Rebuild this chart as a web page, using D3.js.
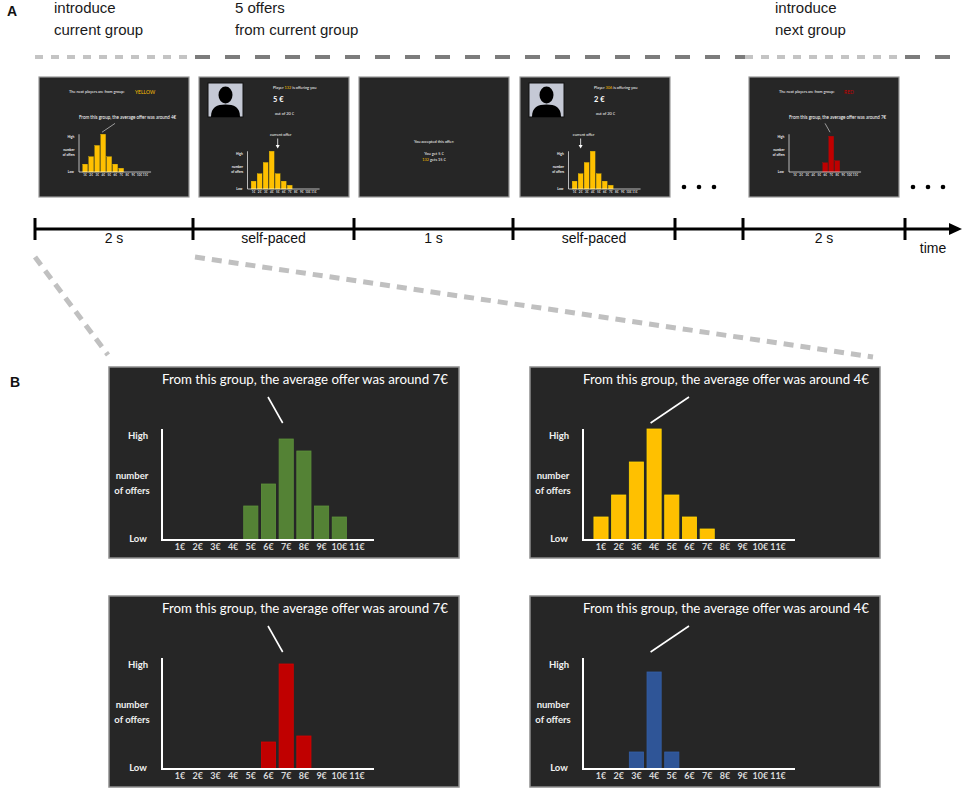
<!DOCTYPE html>
<html>
<head>
<meta charset="utf-8">
<script src="https://cdn.jsdelivr.net/npm/d3@7"></script>
<style>
  body { margin: 0; background: #fff; }
  svg { display: block; }
</style>
</head>
<body>
<svg id="fig" width="964" height="791"></svg>
<script>
// offer amounts on the x axis
var euros = ["1€", "2€", "3€", "4€", "5€", "6€", "7€", "8€", "9€", "10€", "11€"];
// relative number of offers per amount (Low = 0, High ~ 100)
var greenOffers  = [0, 0, 0, 0, 34, 56, 101, 89, 34, 23, 0];
var yellowOffers = [23, 45, 78, 111, 45, 23, 11, 0, 0, 0, 0];
var redOffers    = [0, 0, 0, 0, 0, 27, 105, 33, 0, 0, 0];
var blueOffers   = [0, 0, 17, 97, 17, 0, 0, 0, 0, 0, 0];
var averages = ["7€", "4€", "7€", "4€"];
var currentOffers = ["5€", "2€"];
var offerPlayers = ["132", "306"];
// timeline
var phaseLabels = [["introduce", "current group"], ["5 offers", "from current group"], ["introduce", "next group"]];
var intervalLabels = ["2 s", "self-paced", "1 s", "self-paced", "", "2 s"];

var colors = { green: "#548235", yellow: "#ffc000", red: "#c00000", blue: "#2f5597" };
var sans = "'Liberation Sans', Arial, sans-serif";
var slideFont = "Lato, 'Open Sans', sans-serif";

var svg = d3.select("#fig");

// band + linear scales shared by every histogram (local coords, origin at axis corner)
var x = d3.scaleBand().domain(euros).range([9.15, 203.85]).paddingInner(0.2).paddingOuter(0.1);
var y = d3.scaleLinear().domain([0, 111]).range([0, -111]);

function drawHist(parent, tx, ty, k, values, color, opts) {
  var g = parent.append("g").attr("transform", "translate(" + tx + "," + ty + ") scale(" + k + ")");
  if (opts.box) {
    g.append("rect").attr("x", -53).attr("y", -173).attr("width", 350).attr("height", 191)
      .attr("fill", "#262626").attr("stroke", "#8f8f8f").attr("stroke-width", 1.5);
  }
  if (opts.avg) {
    g.append("text").attr("x", 143).attr("y", -156).attr("text-anchor", "middle")
      .attr("fill", "#fff").style("font-family", slideFont).style("font-size", "14px")
      .attr("textLength", 286).attr("lengthAdjust", "spacingAndGlyphs")
      .text("From this group, the average offer was around " + opts.avg);
    g.append("line").attr("x1", 106).attr("y1", -143)
      .attr("x2", x(opts.avg) + x.bandwidth() / 2 - 3.5).attr("y2", -117)
      .attr("stroke", "#fff").attr("stroke-width", 1.6);
  }
  var data = euros.map(function(e, i) { return { e: e, v: values[i] }; });
  g.selectAll("rect.bar").data(data.filter(function(d) { return d.v > 0; }))
    .enter().append("rect").attr("class", "bar")
    .attr("x", function(d) { return x(d.e); })
    .attr("y", function(d) { return y(d.v); })
    .attr("width", x.bandwidth())
    .attr("height", function(d) { return -y(d.v); })
    .attr("fill", color)
    .attr("stroke", d3.color(color).brighter(0.3))
    .attr("stroke-width", 0.8);
  // axes
  g.append("path").attr("d", "M0,-111V0H212").attr("fill", "none")
    .attr("stroke", "#fff").attr("stroke-width", 2);
  var ax = g.append("g").call(d3.axisBottom(x).tickSize(0).tickPadding(4));
  ax.select(".domain").remove();
  ax.selectAll("text").attr("fill", "#d9d9d9").style("font-family", slideFont)
    .style("font-size", "9px").style("font-weight", "bold");
  var yl = [["High", -24, -101], ["number", -30, -61], ["of offers", -30, -46], ["Low", -24, 2]];
  g.selectAll("text.ylab").data(yl).enter().append("text").attr("class", "ylab")
    .attr("x", function(d) { return d[1]; }).attr("y", function(d) { return d[2]; })
    .attr("text-anchor", "middle").attr("fill", "#f0f0f0")
    .style("font-family", slideFont).style("font-size", "9.5px").style("font-weight", "bold")
    .text(function(d) { return d[0]; });
  return g;
}

function screen(x0) {
  svg.append("rect").attr("x", x0).attr("y", 77).attr("width", 150).attr("height", 120)
    .attr("fill", "#262626").attr("stroke", "#999").attr("stroke-width", 1.2);
}

function tiny(x0, y0, str, size, anchor, fill, weight) {
  return svg.append("text").attr("x", x0).attr("y", y0).attr("text-anchor", anchor || "start")
    .attr("fill", fill || "#fff").style("font-family", slideFont).style("font-size", size + "px")
    .style("font-weight", weight || "normal").text(str);
}

function photo(x0, y0) {
  var g = svg.append("g").attr("transform", "translate(" + x0 + "," + y0 + ")");
  g.append("rect").attr("width", 35).attr("height", 34).attr("fill", "#c5c9d5")
    .attr("stroke", "#111").attr("stroke-width", 1);
  g.append("ellipse").attr("cx", 17.5).attr("cy", 12).attr("rx", 7).attr("ry", 8.5).attr("fill", "#000");
  g.append("path").attr("d", "M3,34C3,24 9,21.5 17.5,21.5C26,21.5 32,24 32,34Z").attr("fill", "#000");
}

// ---------- panel A ----------
svg.append("text").attr("x", 7).attr("y", 16).style("font-family", sans).style("font-size", "14px")
  .style("font-weight", "bold").attr("fill", "#111").text("A");
svg.append("text").attr("x", 10).attr("y", 387).style("font-family", sans).style("font-size", "14px")
  .style("font-weight", "bold").attr("fill", "#111").text("B");

var phaseX = [54, 235, 775];
phaseLabels.forEach(function(lines, i) {
  lines.forEach(function(t, j) {
    svg.append("text").attr("x", phaseX[i]).attr("y", 13 + j * 21.5)
      .style("font-family", sans).style("font-size", "15px").attr("fill", "#1a1a1a").text(t);
  });
});

// dashed phase bar
var dashSegs = [[35, 193, "light"], [195, 745, "dark"], [745, 905, "light"], [905, 951, "dark"]];
dashSegs.forEach(function(s) {
  svg.append("line").attr("x1", s[0]).attr("x2", s[1]).attr("y1", 57).attr("y2", 57)
    .attr("stroke", s[2] === "light" ? "#c4c4c4" : "#7c7c7c").attr("stroke-width", 4)
    .attr("stroke-dasharray", s[2] === "light" ? "8,8" : "15,15");
});

// screens
[39, 199, 359, 520, 749].forEach(screen);

// screen 1: introduce yellow group
tiny(69, 93, "The next players are from group:", 3.9);
tiny(135, 93.5, "YELLOW", 5, "start", colors.yellow);
drawHist(svg, 79, 172, 0.34, yellowOffers, colors.yellow, { avg: averages[1] });

// screens 2 and 4: offers
[[199, 0], [520, 1]].forEach(function(s) {
  var x0 = s[0], i = s[1];
  photo(x0 + 9, 83);
  var t = tiny(x0 + 74, 89, "Player ", 3.9);
  t.append("tspan").attr("fill", colors.yellow).text(offerPlayers[i]);
  t.append("tspan").text(" is offering you");
  tiny(x0 + 74, 102, currentOffers[i].replace("€", " €"), 7.5, "start", "#fff", "bold");
  tiny(x0 + 76, 115, "out of 20 €", 3.9);
  var ax0 = x0 + 48.5, ay0 = 189;
  drawHist(svg, ax0, ay0, 0.34, yellowOffers, colors.yellow, {});
  var cx = ax0 + 0.34 * (x(currentOffers[i]) + x.bandwidth() / 2);
  tiny(cx + 3, 136, "current offer", 3.9, "middle");
  svg.append("line").attr("x1", cx).attr("x2", cx).attr("y1", 138.5).attr("y2", 145)
    .attr("stroke", "#fff").attr("stroke-width", 0.8);
  svg.append("path").attr("d", "M" + (cx - 2) + ",145L" + (cx + 2) + ",145L" + cx + ",148.5Z")
    .attr("fill", "#fff");
});

// screen 3: accepted
tiny(434, 143, "You accepted this offer:", 3.9, "middle");
tiny(434, 155, "You get 5 €", 3.9, "middle");
var acc = tiny(434, 161, "", 3.9, "middle");
acc.append("tspan").attr("fill", colors.yellow).text("132");
acc.append("tspan").text(" gets 15 €");

// screen 5: introduce red group
tiny(779, 93, "The next players are from group:", 3.9);
tiny(844, 93.5, "RED", 5, "start", colors.red);
drawHist(svg, 789, 172, 0.34, redOffers, colors.red, { avg: averages[2] });

// ellipsis dots
[684, 699, 714, 913, 928, 943].forEach(function(cx) {
  svg.append("circle").attr("cx", cx).attr("cy", 187).attr("r", 2.3).attr("fill", "#000");
});

// timeline
var ticks = [35, 193, 354, 513, 675, 743, 905];
svg.append("line").attr("x1", 35).attr("x2", 952).attr("y1", 229).attr("y2", 229)
  .attr("stroke", "#000").attr("stroke-width", 3);
svg.append("path").attr("d", "M949,223L962,229L949,235Z").attr("fill", "#000");
ticks.forEach(function(tx) {
  svg.append("line").attr("x1", tx).attr("x2", tx).attr("y1", 218).attr("y2", 240)
    .attr("stroke", "#000").attr("stroke-width", 3);
});
intervalLabels.forEach(function(t, i) {
  if (!t) return;
  svg.append("text").attr("x", (ticks[i] + ticks[i + 1]) / 2).attr("y", 243)
    .attr("text-anchor", "middle").style("font-family", sans).style("font-size", "14px")
    .attr("fill", "#111").text(t);
});
svg.append("text").attr("x", 933).attr("y", 253).attr("text-anchor", "middle")
  .style("font-family", sans).style("font-size", "14px").attr("fill", "#111").text("time");

// zoom connectors
[[35, 257, 108, 355], [195, 257, 873, 357]].forEach(function(c) {
  svg.append("line").attr("x1", c[0]).attr("y1", c[1]).attr("x2", c[2]).attr("y2", c[3])
    .attr("stroke", "#c0c0c0").attr("stroke-width", 5).attr("stroke-dasharray", "10,7");
});

// ---------- panel B ----------
drawHist(svg, 162, 540, 1, greenOffers, colors.green, { box: true, avg: averages[0] });
drawHist(svg, 583, 540, 1, yellowOffers, colors.yellow, { box: true, avg: averages[1] });
drawHist(svg, 162, 769, 1, redOffers, colors.red, { box: true, avg: averages[2] });
drawHist(svg, 583, 769, 1, blueOffers, colors.blue, { box: true, avg: averages[3] });
</script>
</body>
</html>
